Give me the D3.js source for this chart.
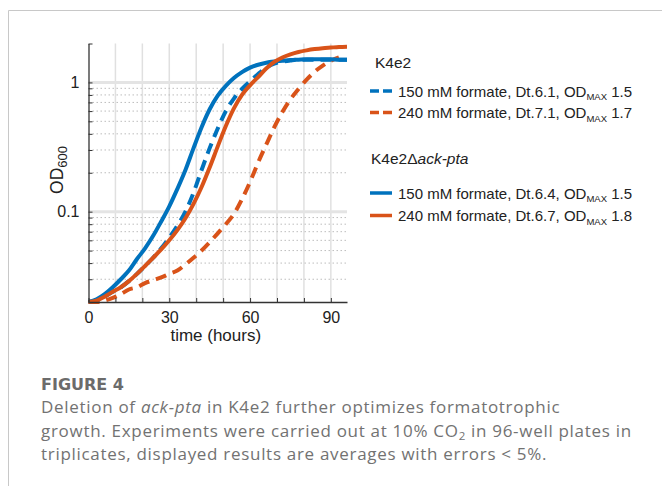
<!DOCTYPE html>
<html>
<head>
<meta charset="utf-8">
<script src="https://cdn.jsdelivr.net/npm/d3@7"></script>
<style>
  html, body { margin: 0; padding: 0; background: #fff; }
  svg { display: block; }
</style>
</head>
<body>
<div id="chart"></div>
<script>
// Sampling times (hours), shared by all series
const hours = d3.range(0, 97, 3);

// OD600 values, one per sampling time (null = no data)
const odK4e2_150 = [0.020, 0.0205, 0.022, 0.024, 0.026, 0.029, 0.033, 0.038, 0.044, 0.052, 0.063,
  0.078, 0.10, 0.14, 0.21, 0.31, 0.44, 0.60, 0.75, 0.89, 1.02, 1.16, 1.30, 1.40, 1.45, 1.48,
  1.50, 1.50, 1.50, 1.50, 1.50, 1.50, 1.50];
const odK4e2_240 = [0.020, 0.020, 0.0205, 0.0215, 0.023, 0.025, 0.026, 0.028, 0.0295, 0.031, 0.033,
  0.035, 0.039, 0.044, 0.050, 0.058, 0.068, 0.080, 0.096, 0.125, 0.17, 0.24, 0.33, 0.45, 0.59,
  0.74, 0.89, 1.05, 1.21, 1.35, 1.47, 1.56, null];
const odAck_150 = [0.020, 0.021, 0.023, 0.026, 0.030, 0.035, 0.043, 0.052, 0.065, 0.084, 0.11,
  0.15, 0.21, 0.31, 0.45, 0.62, 0.79, 0.94, 1.08, 1.20, 1.30, 1.37, 1.42, 1.45, 1.47, 1.49,
  1.50, 1.51, 1.51, 1.51, 1.51, 1.50, 1.50];
const odAck_240 = [0.020, 0.0205, 0.022, 0.024, 0.026, 0.029, 0.033, 0.038, 0.044, 0.051, 0.060,
  0.072, 0.089, 0.115, 0.155, 0.22, 0.32, 0.46, 0.63, 0.80, 0.95, 1.10, 1.28, 1.44, 1.56,
  1.65, 1.72, 1.77, 1.81, 1.84, 1.86, 1.88, 1.89];

// Legend labels
const legendGroups = ['K4e2', 'K4e2\u0394ack-pta'];
const legendMedium = ['150 mM formate, Dt.6.1, OD', '240 mM formate, Dt.7.1, OD',
  '150 mM formate, Dt.6.4, OD', '240 mM formate, Dt.6.7, OD'];
const legendOdMax = ['1.5', '1.7', '1.5', '1.8'];

// Axis ticks
const xTicks = [0, 30, 60, 90];
const xMinor = d3.range(0, 96, 10);
const yTicks = [0.1, 1];
const yMinor = [0.02, 0.03, 0.04, 0.05, 0.06, 0.07, 0.08, 0.09, 0.2, 0.3, 0.4, 0.5, 0.6, 0.7, 0.8, 0.9, 2];

const BLUE = '#0072BD';
const ORANGE = '#D95319';
const FONT = '"Liberation Sans", Arial, Helvetica, sans-serif';

const series = [
  { values: odK4e2_150, color: BLUE, dashed: true },
  { values: odK4e2_240, color: ORANGE, dashed: true },
  { values: odAck_150, color: BLUE, dashed: false },
  { values: odAck_240, color: ORANGE, dashed: false },
];

const W = 662, H = 486;
const svg = d3.select('#chart').append('svg')
  .attr('width', W).attr('height', H);

// Figure frame (top + left rule)
svg.append('path')
  .attr('d', `M8.5,${H} V10.5 H${W}`)
  .attr('fill', 'none')
  .attr('stroke', '#c8c8c8')
  .attr('stroke-width', 1);

const x = d3.scaleLinear().domain([0, 96]).range([88.5, 347]);
const y = d3.scaleLog().domain([0.02, 2]).range([302, 43.5]);

const plot = svg.append('g');

// Vertical grid
plot.selectAll('line.vgrid')
  .data(xMinor.filter(d => d > 0))
  .join('line')
  .attr('class', 'vgrid')
  .attr('x1', d => x(d)).attr('x2', d => x(d))
  .attr('y1', y(2)).attr('y2', y(0.02))
  .attr('stroke', '#e0e0e0')
  .attr('stroke-width', 1.5);

// Minor horizontal grid (dotted)
plot.selectAll('line.hminor')
  .data(yMinor.filter(d => d > 0.02 && d < 2))
  .join('line')
  .attr('class', 'hminor')
  .attr('x1', x(0)).attr('x2', x(96))
  .attr('y1', d => y(d)).attr('y2', d => y(d))
  .attr('stroke', '#bdbdbd')
  .attr('stroke-width', 1)
  .attr('stroke-dasharray', '1.5,2.5');

// Major horizontal grid
plot.selectAll('line.hmajor')
  .data(yTicks)
  .join('line')
  .attr('class', 'hmajor')
  .attr('x1', x(0)).attr('x2', x(96))
  .attr('y1', d => y(d)).attr('y2', d => y(d))
  .attr('stroke', '#e4e4e4')
  .attr('stroke-width', 3);

// Curves
const line = d3.line()
  .defined(d => d[1] != null)
  .x(d => x(d[0]))
  .y(d => y(d[1]))
  .curve(d3.curveMonotoneX);

series.forEach(s => {
  plot.append('path')
    .datum(hours.map((h, i) => [h, s.values[i]]))
    .attr('d', line)
    .attr('fill', 'none')
    .attr('stroke', s.color)
    .attr('stroke-width', 4)
    .attr('stroke-dasharray', s.dashed ? '11,7' : null);
});

// Axes (MATLAB-style inward ticks)
const xAxis = svg.append('g')
  .attr('transform', `translate(0,${y(0.02)})`)
  .call(d3.axisBottom(x).tickValues(xMinor).tickSizeInner(-4).tickSizeOuter(0).tickPadding(10)
    .tickFormat(d => xTicks.includes(d) ? d : ''));
const yAxis = svg.append('g')
  .attr('transform', `translate(${x(0)},0)`)
  .call(d3.axisLeft(y).tickValues(yTicks.concat(yMinor)).tickSizeInner(-4).tickSizeOuter(0).tickPadding(9)
    .tickFormat(d => yTicks.includes(d) ? d : ''));

[xAxis, yAxis].forEach(a => {
  a.select('.domain').attr('stroke', '#333').attr('stroke-width', 1.3);
  a.selectAll('.tick line').attr('stroke', '#333').attr('stroke-width', 1);
  a.selectAll('.tick text')
    .attr('font-family', FONT).attr('font-size', 16).attr('fill', '#222');
});

// Axis titles
svg.append('text')
  .attr('x', (x(0) + x(96)) / 2 - 2)
  .attr('y', 341)
  .attr('text-anchor', 'middle')
  .attr('font-family', FONT).attr('font-size', 17).attr('fill', '#222')
  .text('time (hours)');

const yl = svg.append('text')
  .attr('transform', 'translate(63,170) rotate(-90)')
  .attr('text-anchor', 'middle')
  .attr('font-family', FONT).attr('font-size', 17.5).attr('fill', '#222');
yl.append('tspan').text('OD');
yl.append('tspan').attr('font-size', 13).attr('dy', 4).text('600');

// Legend
const legend = svg.append('g');
const headerY = [68, 164];
const entryY = [91, 112.5, 193, 215.5];

legendGroups.forEach((g, i) => {
  const t = legend.append('text')
    .attr('x', i === 0 ? 375 : 371).attr('y', headerY[i])
    .attr('font-family', FONT).attr('font-size', 15.5).attr('fill', '#222');
  if (i === 0) {
    t.text(g);
  } else {
    t.append('tspan').text('K4e2\u0394');
    t.append('tspan').attr('font-style', 'italic').text('ack-pta');
  }
});

series.forEach((s, i) => {
  const yy = entryY[i];
  legend.append('line')
    .attr('x1', 370).attr('x2', 392)
    .attr('y1', yy).attr('y2', yy)
    .attr('stroke', s.color)
    .attr('stroke-width', 3.5)
    .attr('stroke-dasharray', s.dashed ? '9,4' : null);
  const t = legend.append('text')
    .attr('x', 398).attr('y', yy + 5.5)
    .attr('font-family', FONT).attr('font-size', 15).attr('fill', '#222');
  t.append('tspan').text(legendMedium[i]);
  t.append('tspan').attr('font-size', 9.5).attr('dy', 3.5).text('MAX');
  t.append('tspan').attr('dy', -3.5).text(' ' + legendOdMax[i]);
});

// Caption
const CAP = '"Open Sans", "Noto Sans", sans-serif';
svg.append('text')
  .attr('x', 41).attr('y', 390)
  .attr('font-family', '"DejaVu Sans", sans-serif').attr('font-size', 16).attr('font-weight', 700)
  .attr('fill', '#6b6b6b')
  .text('FIGURE 4');

const capStyle = t => t
  .attr('x', 41)
  .attr('font-family', CAP).attr('font-size', 17).attr('letter-spacing', 0.7)
  .attr('fill', '#727272');

const cap1 = svg.append('text').call(capStyle).attr('y', 413);
cap1.append('tspan').text('Deletion of ');
cap1.append('tspan').attr('font-style', 'italic').text('ack-pta');
cap1.append('tspan').text(' in K4e2 further optimizes formatotrophic');

const cap2 = svg.append('text').call(capStyle).attr('y', 436.5);
cap2.append('tspan').text('growth. Experiments were carried out at 10% CO');
cap2.append('tspan').attr('font-size', 11.5).attr('dy', 3).text('2');
cap2.append('tspan').attr('dy', -3).text(' in 96-well plates in');

svg.append('text').call(capStyle).attr('y', 460)
  .text('triplicates, displayed results are averages with errors < 5%.');
</script>
</body>
</html>
